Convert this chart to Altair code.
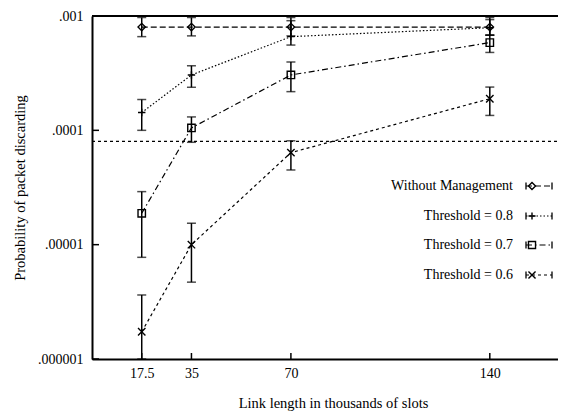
import altair as alt
import pandas as pd

x_vals = [17.5, 35, 70, 140]
series = ["Without Management", "Threshold = 0.8", "Threshold = 0.7", "Threshold = 0.6"]
wm = [0.0008, 0.0008, 0.0008, 0.0008]
wm_lo = [0.00066, 0.00067, 0.00067, 0.00068]
wm_hi = [0.00097, 0.00097, 0.00097, 0.00097]
t08 = [0.000143, 0.000305, 0.00066, 0.00079]
t08_lo = [0.0001, 0.000238, 0.000557, 0.00068]
t08_hi = [0.000186, 0.000367, 0.00091, 0.00093]
t07 = [0.0000188, 0.000105, 0.000305, 0.000585]
t07_lo = [0.00000775, 0.0000786, 0.000218, 0.00048]
t07_hi = [0.0000291, 0.000131, 0.000396, 0.00068]
t06 = [0.00000173, 0.00001, 0.0000638, 0.000189]
t06_lo = [0.000001, 0.0000047, 0.000045, 0.000135]
t06_hi = [0.00000363, 0.0000154, 0.000081, 0.000239]
ref_level = [0.00008]
y_ticks = [0.000001, 0.00001, 0.0001, 0.001]

vals = [wm, t08, t07, t06]
los = [wm_lo, t08_lo, t07_lo, t06_lo]
his = [wm_hi, t08_hi, t07_hi, t06_hi]
rows = []
for s, v, lo, hi in zip(series, vals, los, his):
    for x, a, b, c in zip(x_vals, v, lo, hi):
        rows.append({"series": s, "x": x, "y": a, "lo": b, "hi": c})
df = pd.DataFrame(rows)

dashes = [[6, 3], [1.5, 2], [6, 3, 1.5, 3], [3, 3]]
plus = "M-1,0L1,0M0,-1L0,1"
xmark = "M-1,-1L1,1M-1,1L1,-1"
shapes = ["diamond", plus, "square", xmark]

W, H = 466, 343
FONT = "Liberation Serif"

xscale = alt.Scale(domain=[0, 164], nice=False, zero=False)
yscale = alt.Scale(type="log", domain=[0.000001, 0.001], nice=False)

xenc = alt.X("x:Q", scale=xscale,
             axis=alt.Axis(values=x_vals, format=".1~f", ticks=False, grid=False,
                           title="Link length in thousands of slots", labelPadding=7,
                           titleX=241, titleY=48, titleBaseline="alphabetic"))
yenc = alt.Y("y:Q", scale=yscale,
             axis=alt.Axis(values=y_ticks, ticks=False, grid=False,
                           labelExpr="datum.value > 0.0005 ? '.001' : datum.value > 0.00005 ? '.0001' : datum.value > 0.000005 ? '.00001' : '.000001'",
                           title="Probability of packet discarding", labelPadding=9,
                           titlePadding=10))

dash_enc = alt.StrokeDash("series:N", scale=alt.Scale(domain=series, range=dashes), legend=None)
shape_enc = alt.Shape("series:N", scale=alt.Scale(domain=series, range=shapes), legend=None)

base = alt.Chart(df)
lines = base.mark_line(color="black", strokeWidth=1.2).encode(x=xenc, y=yenc, strokeDash=dash_enc, detail="series:N")
bars = base.mark_rule(color="black", strokeWidth=1.5).encode(x="x:Q", y="lo:Q", y2="hi:Q")
cap_lo = base.mark_tick(color="black", orient="horizontal", size=9, thickness=1.5).encode(x="x:Q", y="lo:Q")
cap_hi = base.mark_tick(color="black", orient="horizontal", size=9, thickness=1.5).encode(x="x:Q", y="hi:Q")
points = base.mark_point(color="black", filled=False, size=55, strokeWidth=1.4, opacity=1).encode(
    x="x:Q", y="y:Q", shape=shape_enc)

ref = alt.Chart(pd.DataFrame({"y": ref_level})).mark_rule(color="black", strokeWidth=1.2, strokeDash=[3, 3]).encode(
    y="y:Q", x=alt.value(0), x2=alt.value(W))

top = alt.Chart(pd.DataFrame({"y": [y_ticks[-1]]})).mark_rule(color="black", strokeWidth=2).encode(
    y="y:Q", x=alt.value(0), x2=alt.value(W))

xt = alt.Chart(pd.DataFrame({"x": x_vals})).mark_rule(color="black", strokeWidth=1.5).encode(
    x="x:Q", y=alt.value(H), y2=alt.value(H - 6))
yt = alt.Chart(pd.DataFrame({"y": y_ticks})).mark_rule(color="black", strokeWidth=1.5).encode(
    y="y:Q", x=alt.value(0), x2=alt.value(7))

legend_layers = []
row_y = [170, 200, 229, 259]
for s, d, sh, ry in zip(series, dashes, shapes, row_y):
    ldf = pd.DataFrame({"series": [s]})
    lc = alt.Chart(ldf)
    legend_layers.append(lc.mark_text(align="right", baseline="middle", font=FONT, fontSize=14, color="black").encode(
        text="series:N", x=alt.value(421), y=alt.value(ry)))
    legend_layers.append(lc.mark_rule(color="black", strokeWidth=1.2, strokeDash=d).encode(
        x=alt.value(434), x2=alt.value(460), y=alt.value(ry)))
    legend_layers.append(lc.mark_rule(color="black", strokeWidth=1.3).encode(
        x=alt.value(434), y=alt.value(ry - 3.5), y2=alt.value(ry + 3.5)))
    legend_layers.append(lc.mark_rule(color="black", strokeWidth=1.3).encode(
        x=alt.value(460), y=alt.value(ry - 3.5), y2=alt.value(ry + 3.5)))
    legend_layers.append(lc.mark_point(color="black", filled=False, size=50, strokeWidth=1.4, shape=sh, opacity=1).encode(
        x=alt.value(440), y=alt.value(ry)))

chart = alt.layer(lines, ref, top, bars, cap_lo, cap_hi, points, xt, yt, *legend_layers).properties(
    width=W, height=H,
    background="white",
    autosize=alt.AutoSizeParams(type="none"),
    padding={"left": 84, "top": 8, "right": 0, "bottom": 52},
).configure_view(stroke=None).configure_axis(
    domainColor="black", domainWidth=2, labelColor="black", titleColor="black",
    labelFont=FONT, titleFont=FONT, labelFontSize=14, titleFontSize=14.5, titleFontWeight="normal",
)

chart.save("out.html", embed_options={"renderer": "svg", "actions": False})
